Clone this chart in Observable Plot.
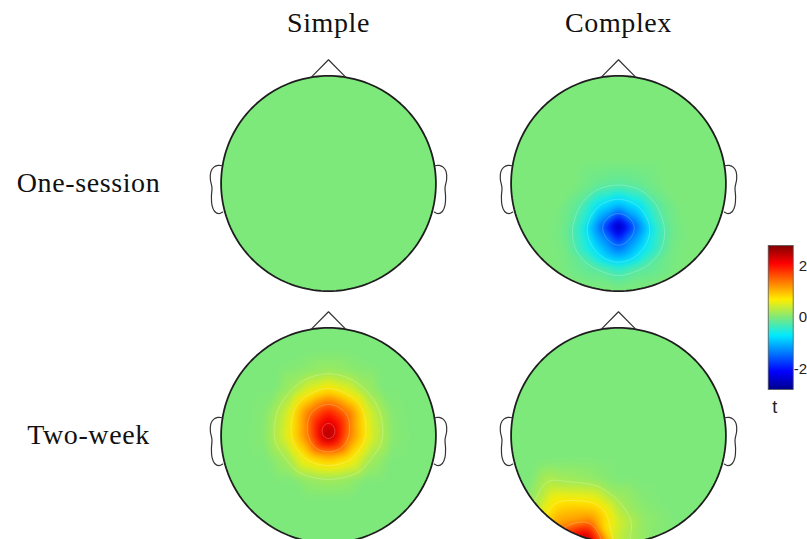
<!DOCTYPE html>
<html><head><meta charset="utf-8">
<script src="https://cdn.jsdelivr.net/npm/d3@7"></script>
<script src="https://cdn.jsdelivr.net/npm/@observablehq/plot@0.6"></script>
<style>
html,body{margin:0;padding:0;background:#fff;overflow:hidden;width:807px;height:539px}
#wrap{position:relative;width:807px;height:539px;overflow:hidden;background:#fff}
#main{position:absolute;left:0;top:0}
#cbar{position:absolute;left:760px;top:235px}
</style></head><body><div id="wrap"><div id="main"></div><div id="cbar"></div></div>
<script>
// ---- facet categories ----
const columns = ["Simple", "Complex"];
const rows = ["One-session", "Two-week"];

// ---- electrode montage (topoplot coords, nose up, head radius = 1) ----
const electrodes = ["Fp1","Fpz","Fp2",
  "AF7","AF3","AFz","AF4","AF8",
  "F7","F5","F3","F1","Fz","F2","F4","F6","F8",
  "FT7","FC5","FC3","FC1","FCz","FC2","FC4","FC6","FT8",
  "T7","C5","C3","C1","Cz","C2","C4","C6","T8",
  "TP7","CP5","CP3","CP1","CPz","CP2","CP4","CP6","TP8",
  "P7","P5","P3","P1","Pz","P2","P4","P6","P8",
  "PO9","PO7","PO3","POz","PO4","PO8","PO10",
  "O9","O1","Oz","O2","O10","Iz"];
const ex = [-0.25,0,0.25,
  -0.47,-0.23,0,0.23,0.47,
  -0.65,-0.5,-0.34,-0.17,0,0.17,0.34,0.5,0.65,
  -0.76,-0.58,-0.39,-0.19,0,0.19,0.39,0.58,0.76,
  -0.8,-0.6,-0.4,-0.2,0,0.2,0.4,0.6,0.8,
  -0.76,-0.58,-0.39,-0.19,0,0.19,0.39,0.58,0.76,
  -0.65,-0.5,-0.34,-0.17,0,0.17,0.34,0.5,0.65,
  -0.55,-0.47,-0.23,0,0.23,0.47,0.55,
  -0.3,-0.25,0,0.25,0.3,0];
const ey = [0.77,0.8,0.77,
  0.65,0.6,0.6,0.6,0.65,
  0.47,0.44,0.42,0.4,0.4,0.4,0.42,0.44,0.47,
  0.25,0.22,0.2,0.2,0.2,0.2,0.2,0.22,0.25,
  0,0,0,0,0,0,0,0,0,
  -0.25,-0.22,-0.2,-0.2,-0.2,-0.2,-0.2,-0.22,-0.25,
  -0.47,-0.44,-0.42,-0.4,-0.4,-0.4,-0.42,-0.44,-0.47,
  -0.83,-0.65,-0.6,-0.6,-0.6,-0.65,-0.83,
  -0.95,-0.77,-0.8,-0.77,-0.95,-0.99];
// far padding points so the triangulation covers the whole head (t = 0)
const rimX = [1.6, 1.13, 0, -1.13, -1.6, -1.13, 0, 1.13];
const rimY = [0, 1.13, 1.6, 1.13, 0, -1.13, -1.6, -1.13];

// ---- t values per panel (electrodes not listed are 0) ----
const simpleOneSession = [];
const complexOneSession = [["Pz",-2.7],["P1",-1.45],["P2",-1.45],["POz",-1.45],["CPz",-1.0],
  ["CP1",-0.68],["CP2",-0.68],["PO3",-0.72],["PO4",-0.72],["P3",-0.5],["P4",-0.5],
  ["Oz",-0.4],["O1",-0.2],["O2",-0.2],["Cz",-0.16],["C1",-0.1],["C2",-0.1],
  ["CP3",-0.15],["CP4",-0.15],["P5",-0.08],["P6",-0.08],["PO7",-0.06],["PO8",-0.06]];
const simpleTwoWeek = [["Cz",2.7],["FCz",2.0],["C1",1.35],["C2",1.35],["FC1",1.4],["FC2",1.4],
  ["CPz",1.05],["Fz",0.9],["CP1",0.8],["CP2",0.8],["F1",0.62],["F2",0.62],["C3",0.5],["C4",0.5],
  ["FC3",0.45],["FC4",0.45],["CP3",0.22],["CP4",0.22],["Pz",0.2],["F3",0.2],["F4",0.2],["P1",0.15],
  ["P2",0.15],["AFz",0.15],["AF3",0.07],["AF4",0.07],["C5",0.05],["C6",0.05],["FC5",0.05],["FC6",0.05]];
const complexTwoWeek = [["O9",2.55],["O1",1.2],["PO9",1.2],["Iz",0.35],["Oz",0.45],["PO7",0.85],
  ["PO3",0.65],["POz",0.2],["P7",0.35],["P5",0.22],["P3",0.15],["P1",0.06],["O2",0.1],
  ["PO4",0.04],["O10",0.06]];

// ---- colour bar ----
const tDomain = [-2.8, 2.8];
const colorTicks = [-2, 0, 2];
const jetStops = [-2.8, -2.1, -0.7, 0, 0.7, 2.1, 2.8];
const jetColors = ["#00008c", "#0000ff", "#00eaff", "#7de97b", "#ffee00", "#ff0000", "#820000"];

// ---- head template outline ----
const noseX = [0.16, 0, -0.16];
const noseY = [0.988, 1.15, 0.988];
const earX = [0.985, 1.03, 1.07, 1.095, 1.10, 1.085, 1.09, 1.085, 1.06, 1.02, 0.985];
const earY = [0.165, 0.168, 0.15, 0.11, 0.04, -0.04, -0.12, -0.2, -0.26, -0.28, -0.265];

// ---- build tables ----
const panels = [
  {fx: "Simple", fy: "One-session", v: simpleOneSession},
  {fx: "Complex", fy: "One-session", v: complexOneSession},
  {fx: "Simple", fy: "Two-week", v: simpleTwoWeek},
  {fx: "Complex", fy: "Two-week", v: complexTwoWeek}
];
const samples = [];
for (const p of panels) {
  const m = new Map(p.v);
  electrodes.forEach((name, i) => samples.push({fx: p.fx, fy: p.fy, x: ex[i], y: ey[i], t: m.get(name) ?? 0}));
  rimX.forEach((x, i) => samples.push({fx: p.fx, fy: p.fy, x, y: rimY[i], t: 0}));
}
const circlePts = d3.range(0, 361, 2).map(a => ({x: Math.cos(a * Math.PI / 180), y: Math.sin(a * Math.PI / 180)}));
const nosePts = noseX.map((x, i) => ({x, y: noseY[i]}));
const earPts = [
  ...earX.map((x, i) => ({side: "R", x, y: earY[i]})),
  ...earX.map((x, i) => ({side: "L", x: -x, y: earY[i]}))
];

// ---- layout ----
const W = 807, ML = 182, MR = 44, MT = 57, ROW = 252;
const facetW = (W - ML - MR) / 2;
const XH = 1.35;
const K = facetW / (2 * XH);      // px per head unit
const YH = ROW / 2 / K;

const colorOpts = {type: "linear", domain: jetStops, range: jetColors, clamp: true};
const box = {x1: -1, y1: -1, x2: 1, y2: 1};

const main = Plot.plot({
  width: W, height: MT + 2 * ROW,
  marginLeft: ML, marginRight: MR, marginTop: MT, marginBottom: 0,
  style: {fontFamily: '"Times New Roman","Liberation Serif",serif', fontSize: "28px", letterSpacing: "0.6px", color: "#111", background: "white"},
  x: {domain: [-XH, XH], axis: null},
  y: {domain: [-YH, YH], axis: null},
  fx: {domain: columns, padding: 0, label: null},
  fy: {domain: rows, padding: 0, label: null},
  color: colorOpts,
  marks: [
    Plot.raster(samples, {x: "x", y: "y", fill: "t", fx: "fx", fy: "fy", ...box, interpolate: "barycentric", blur: 3}),
    Plot.contour(samples, {x: "x", y: "y", value: "t", fx: "fx", fy: "fy", ...box, interpolate: "barycentric", blur: 3,
      thresholds: [-1.4, -0.7, -0.25, 0.25, 0.7, 1.4, 2.1], fill: "none", stroke: "white", strokeOpacity: 0.28, strokeWidth: 0.8}),
    Plot.dot([0], {x: 0, y: 0, r: K * 1.23, stroke: "white", strokeWidth: K * 0.46, fill: "none", clip: true}),
    Plot.line(circlePts, {x: "x", y: "y", stroke: "#1e1e1e", strokeWidth: 1.8}),
    Plot.line(nosePts, {x: "x", y: "y", stroke: "#333", strokeWidth: 1.2}),
    Plot.line(earPts, {x: "x", y: "y", z: "side", curve: "catmull-rom", stroke: "#333", strokeWidth: 1.2}),
    Plot.axisFx({anchor: "top", tickSize: 0, tickPadding: 26, label: null}),
    Plot.axisFy({anchor: "left", tickSize: 0, tickPadding: 95, textAnchor: "middle", label: null})
  ]
});
document.getElementById("main").append(main);

const cbar = Plot.plot({
  width: 47, height: 194,
  marginLeft: 7.7, marginRight: 14.3, marginTop: 10, marginBottom: 40,
  style: {fontFamily: 'Arial,"Liberation Sans",sans-serif', fontSize: "15px", color: "#222", background: "transparent"},
  x: {domain: [0, 1], axis: null},
  y: {domain: tDomain, axis: null},
  color: colorOpts,
  marks: [
    Plot.raster({fill: (x, y) => y, x1: 0, x2: 1, y1: tDomain[0], y2: tDomain[1]}),
    Plot.frame({stroke: "#555", strokeWidth: 0.8}),
    Plot.axisY({ticks: colorTicks, anchor: "right", tickSize: 0, tickPadding: 14, textAnchor: "end", tickFormat: d => String(d), label: null}),
    Plot.text(["t"], {frameAnchor: "bottom", dy: 23, dx: -6, fontSize: 18})
  ]
});
document.getElementById("cbar").append(cbar);
</script></body></html>
